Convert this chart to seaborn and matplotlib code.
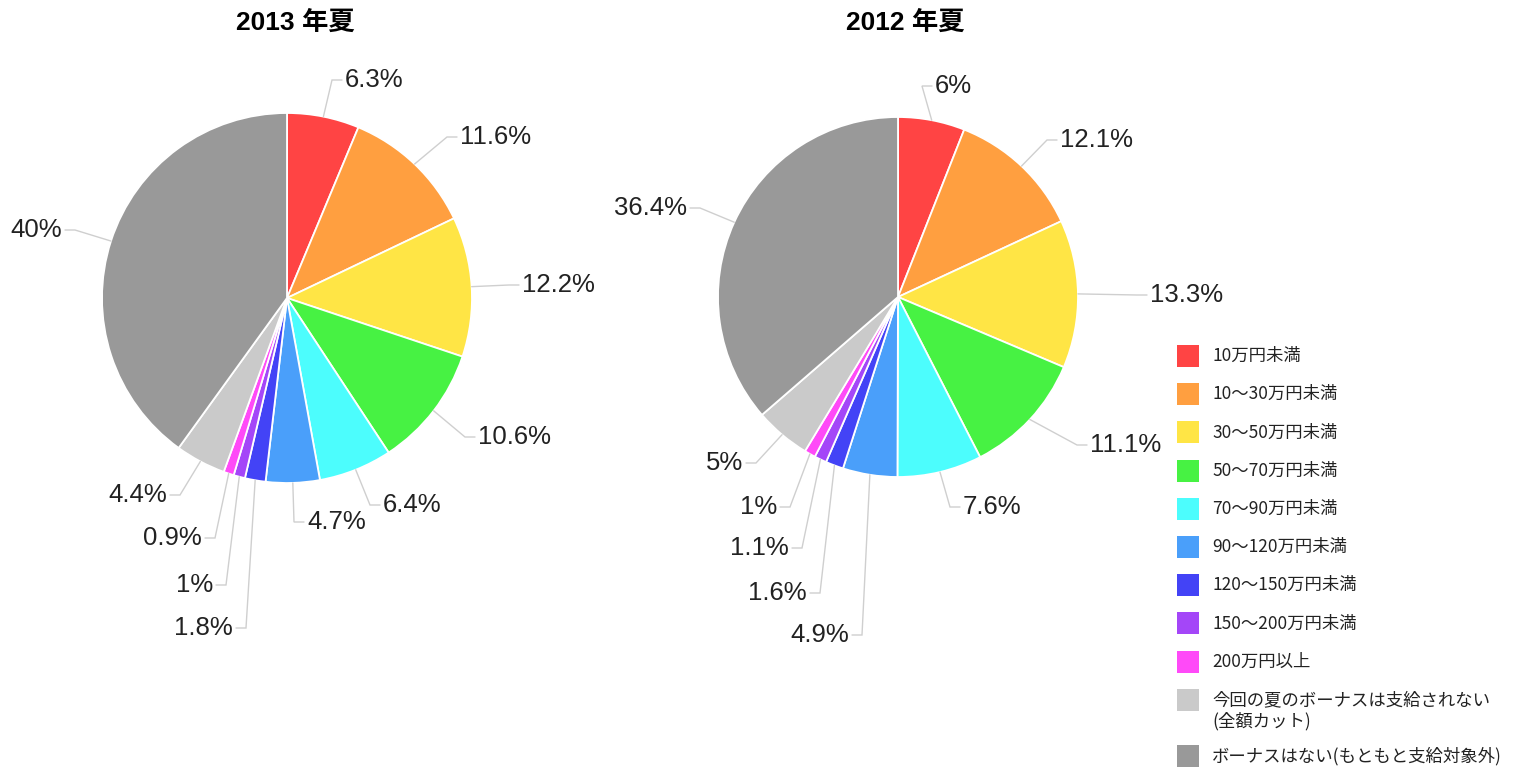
import numpy as np
import matplotlib
matplotlib.use("Agg")
import matplotlib.pyplot as plt
from matplotlib.patches import Rectangle
import seaborn as sns

# ---------------- data ----------------
categories = [
    "10万円未満", "10～30万円未満", "30～50万円未満", "50～70万円未満",
    "70～90万円未満", "90～120万円未満", "120～150万円未満", "150～200万円未満",
    "200万円以上", "今回の夏のボーナスは支給されない\n(全額カット)",
    "ボーナスはない(もともと支給対象外)",
]
values_2013 = [6.3, 11.6, 12.2, 10.6, 6.4, 4.7, 1.8, 1.0, 0.9, 4.4, 40.0]
values_2012 = [6.0, 12.1, 13.3, 11.1, 7.6, 4.9, 1.6, 1.1, 1.0, 5.0, 36.4]
labels_2013 = ["6.3%", "11.6%", "12.2%", "10.6%", "6.4%", "4.7%", "1.8%", "1%", "0.9%", "4.4%", "40%"]
labels_2012 = ["6%", "12.1%", "13.3%", "11.1%", "7.6%", "4.9%", "1.6%", "1.1%", "1%", "5%", "36.4%"]
titles = ["2013 年夏", "2012 年夏"]

colors = ["#FF4444", "#FF9F40", "#FFE545", "#47F243", "#4CFDFD", "#4A9FFA",
          "#4343F6", "#A446F8", "#FF4AF8", "#CACACA", "#999999"]

# ---------------- layout (pixel coordinates, y measured from top) ----------------
W, H = 1515, 773
pies = [
    dict(cx=287, cy=298, r=185, title_x=295),
    dict(cx=898, cy=297, r=180, title_x=905),
]
# label anchor: (side, text edge x, text center y)
label_layout = [
    [("L", 345, 80), ("L", 460, 137), ("L", 522, 285), ("L", 478, 437),
     ("L", 383, 505), ("L", 307, 522), ("R", 233, 628), ("R", 213, 585),
     ("R", 202, 538), ("R", 167, 495), ("R", 62, 230)],
    [("L", 935, 86), ("L", 1060, 140), ("L", 1150, 295), ("L", 1090, 445),
     ("L", 963, 507), ("R", 849, 635), ("R", 807, 593), ("R", 789, 548),
     ("R", 777, 507), ("R", 743, 463), ("R", 687, 208)],
]

sns.set_theme(style="white")
plt.rcParams["font.family"] = ["Liberation Sans", "Noto Sans CJK JP", "DejaVu Sans"]

fig = plt.figure(figsize=(W / 100, H / 100), dpi=100)
ax = fig.add_axes([0, 0, 1, 1])

def fy(y):
    return H - y

for p, vals, labs, lay, title in zip(pies, [values_2013, values_2012],
                                     [labels_2013, labels_2012], label_layout, titles):
    wedges, _ = ax.pie(vals, colors=colors, startangle=90, counterclock=False,
                       center=(p["cx"], fy(p["cy"])), radius=p["r"],
                       wedgeprops=dict(edgecolor="white", linewidth=1.3))
    ax.text(p["title_x"], fy(23), title, ha="center", va="center",
            fontsize=19, fontweight="bold", color="black",
            family=["Liberation Sans", "Noto Sans CJK JP"])
    for w, lab, (side, tx, ty) in zip(wedges, labs, lay):
        mid = np.deg2rad((w.theta1 + w.theta2) / 2)
        ex = p["cx"] + p["r"] * np.cos(mid)
        ey = fy(p["cy"]) + p["r"] * np.sin(mid)
        sgn = -1 if side == "L" else 1
        elbow_x = tx + sgn * 13
        end_x = tx + sgn * 3
        ax.plot([ex, elbow_x, end_x], [ey, fy(ty), fy(ty)], color="#CFCFCF",
                lw=1.0, solid_joinstyle="miter")
        ax.text(tx, fy(ty), lab, ha="left" if side == "L" else "right",
                va="center", fontsize=18.5, color="#222222")

# ---------------- legend ----------------
leg_x, leg_y0, leg_step, sq = 1177, 356, 38.2, 22
leg_font = dict(fontsize=12.5, color="#222222", family=["Noto Sans CJK JP"])
for i, (c, name) in enumerate(zip(colors, categories)):
    yc = leg_y0 + i * leg_step + (18 if i == len(categories) - 1 else 0)
    ax.add_patch(Rectangle((leg_x, fy(yc) - sq / 2), sq, sq, facecolor=c, edgecolor="none"))
    lines = name.split("\n")
    for k, line in enumerate(lines):
        ax.text(leg_x + 35, fy(yc + 21 * k), line, ha="left", va="center", **leg_font)

ax.set_xlim(0, W)
ax.set_ylim(0, H)
ax.set_aspect("equal")
ax.axis("off")
fig.savefig("out.png", dpi=100, facecolor="white")
